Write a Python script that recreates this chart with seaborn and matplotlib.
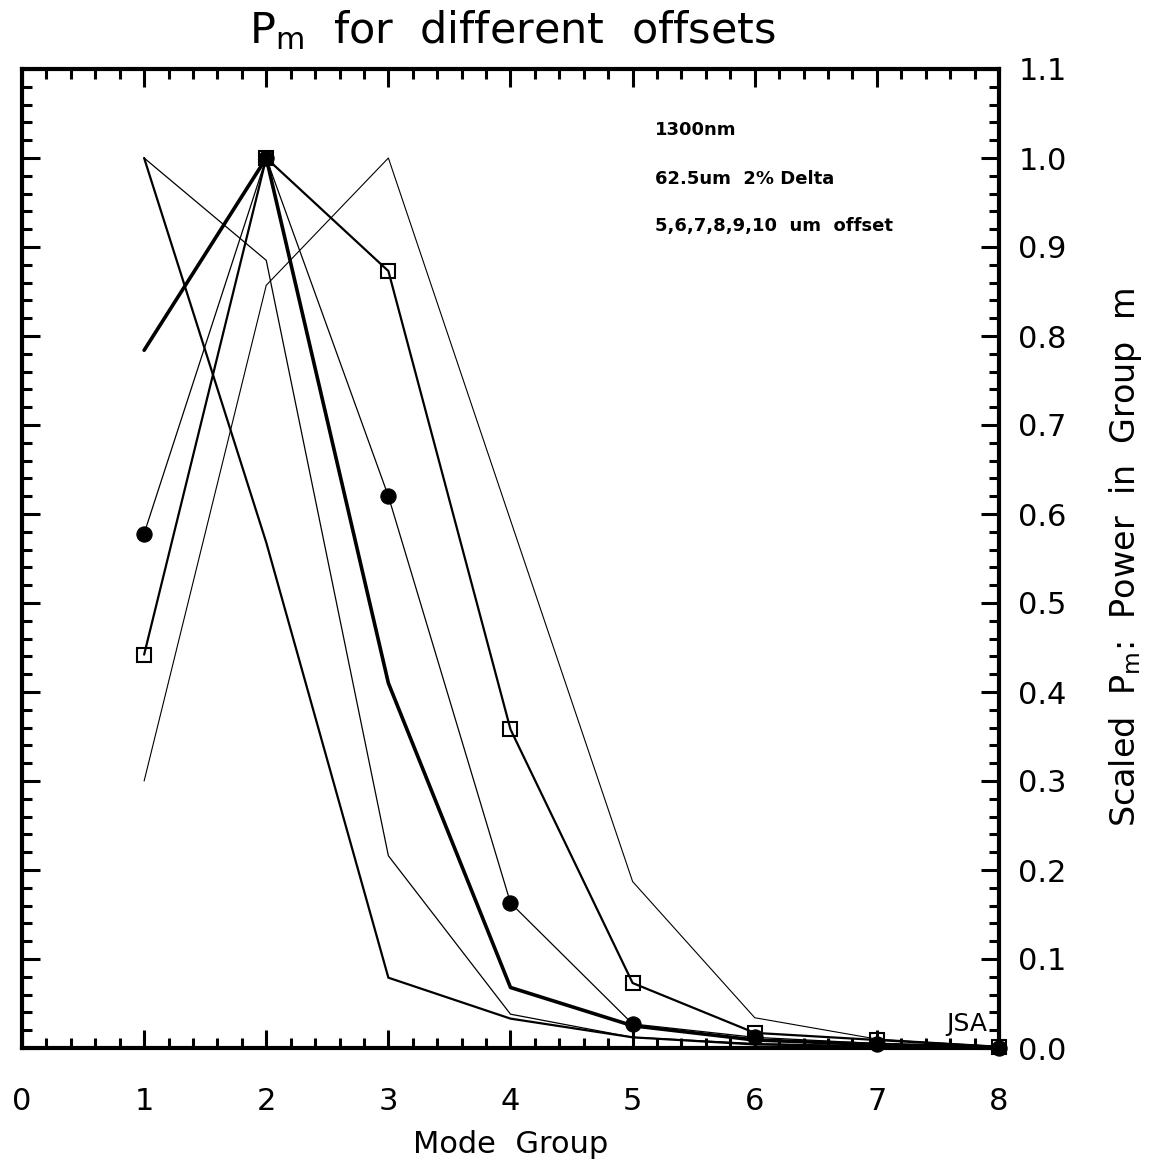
import numpy as np
import pandas as pd
import matplotlib
matplotlib.use("Agg")
import matplotlib.pyplot as plt
from matplotlib.ticker import MultipleLocator, FormatStrFormatter
import seaborn as sns

# ---- data ----
mode_group = [1, 2, 3, 4, 5, 6, 7, 8]
offset_a = [1.000, 0.885, 0.216, 0.038, 0.012, 0.005, 0.002, 0.000]
offset_b = [1.000, 0.568, 0.079, 0.033, 0.012, 0.004, 0.002, 0.000]
offset_c = [0.784, 1.000, 0.410, 0.068, 0.025, 0.009, 0.004, 0.001]
offset_d = [0.578, 1.000, 0.620, 0.163, 0.027, 0.012, 0.005, 0.000]
offset_e = [0.442, 1.000, 0.873, 0.358, 0.073, 0.017, 0.009, 0.001]
offset_f = [0.300, 0.857, 1.000, 0.593, 0.187, 0.034, 0.010, 0.002]
x_ticks = [0, 1, 2, 3, 4, 5, 6, 7, 8]
y_ticks = [0.0, 0.1, 0.2, 0.3, 0.4, 0.5, 0.6, 0.7, 0.8, 0.9, 1.0, 1.1]
notes = ["1300nm", "62.5um  2% Delta", "5,6,7,8,9,10  um  offset"]

sns.set_theme(style="ticks")
plt.rcParams['font.family'] = ['DejaVu Sans']
plt.rcParams['text.color'] = 'black'
plt.rcParams['axes.labelcolor'] = 'black'

fig = plt.figure(figsize=(11.49, 11.69), dpi=100)
ax = fig.add_axes([22/1149, 1 - 1048/1169, (999-22)/1149, (1048-69)/1169])

series = [
    (offset_a, 0.9, None),
    (offset_b, 1.6, None),
    (offset_c, 2.6, None),
    (offset_f, 0.8, None),
    (offset_e, 1.6, "square"),
    (offset_d, 0.9, "circle"),
]
for vals, lw, mk in series:
    df = pd.DataFrame({"mode": mode_group, "p": vals})
    kw = {}
    if mk == "circle":
        kw = dict(marker="o", markersize=11, markerfacecolor="black",
                  markeredgecolor="black")
    elif mk == "square":
        kw = dict(marker="s", markersize=10, markerfacecolor="none",
                  markeredgecolor="black", markeredgewidth=1.5)
    sns.lineplot(data=df, x="mode", y="p", ax=ax, color="black",
                 linewidth=lw, estimator=None, sort=False, **kw)
for l in ax.get_lines():
    l.set_clip_on(False)

ax.set_xlim(0, 8)
ax.set_ylim(0, 1.1)
ax.set_xticks(x_ticks)
ax.set_yticks(y_ticks)
ax.yaxis.set_major_formatter(FormatStrFormatter("%.1f"))
ax.xaxis.set_minor_locator(MultipleLocator(0.2))
ax.yaxis.set_minor_locator(MultipleLocator(0.02))

for s in ax.spines.values():
    s.set_visible(True)
    s.set_linewidth(3)
    s.set_color("black")

ax.tick_params(which="both", direction="in", top=True, bottom=True,
               left=True, right=True, labelleft=False, labelright=True,
               colors="black", width=2.2)
ax.tick_params(which="major", length=13)
ax.tick_params(which="minor", length=7)
ax.tick_params(axis="x", which="major", labelsize=22, pad=28)
ax.tick_params(axis="y", which="major", labelsize=22, pad=14)

ax.set_xlabel("Mode  Group", fontsize=22, labelpad=10)
ax.set_ylabel("")
fig.text(1125/1149, 1 - 557/1169, "Scaled  P$_\\mathregular{m}$:  Power  in  Group  m",
         rotation=90, ha="center", va="center", fontsize=24)

fig.suptitle("P$_\\mathregular{m}$  for  different  offsets", x=512/1149,
             y=1 - 30/1169, va="center", fontsize=31)

for t, yy in zip(notes, [130, 179, 226]):
    fig.text(655/1149, 1 - yy/1169, t, ha="left", va="center",
             fontsize=13, fontweight="bold")

fig.text(987/1149, 1 - 1024/1169, "JSA", ha="right", va="center", fontsize=18)

fig.savefig("out.png", dpi=100, facecolor="white")
